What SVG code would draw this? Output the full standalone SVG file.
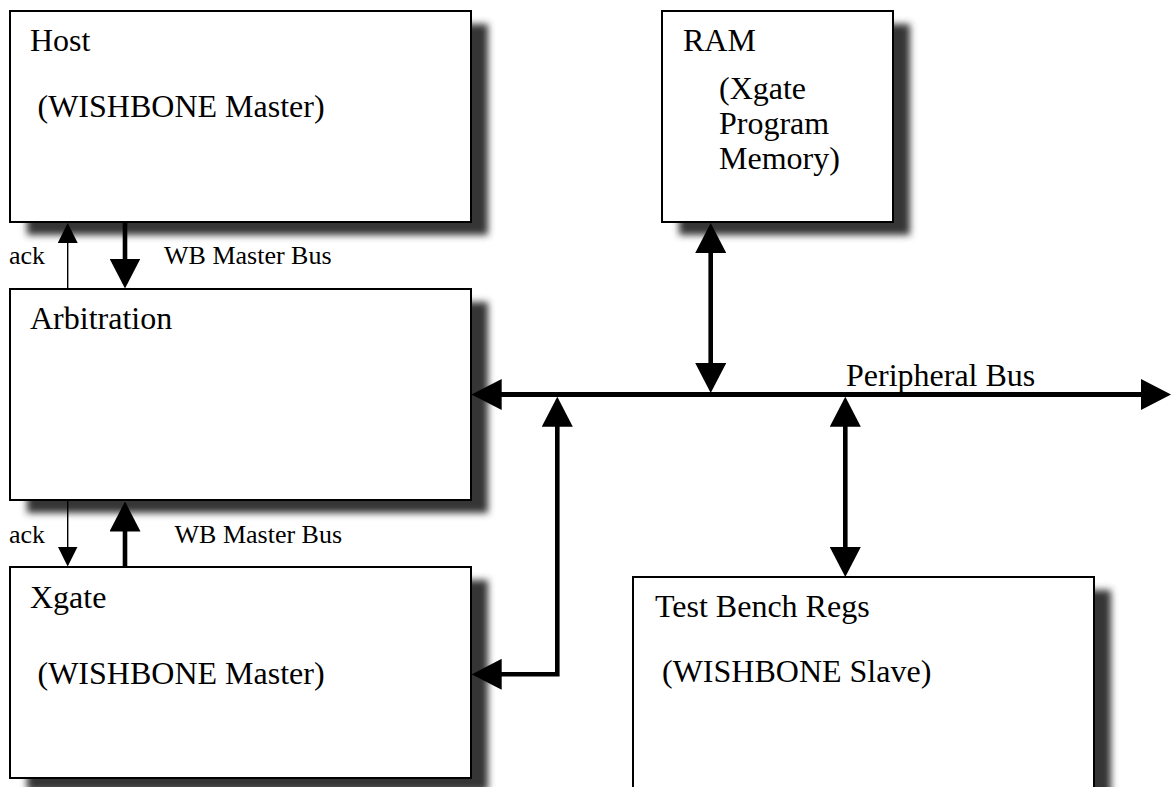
<svg xmlns="http://www.w3.org/2000/svg" width="1171" height="787" viewBox="0 0 1171 787">
  <style>
    .box { fill: #ffffff; stroke: #000000; stroke-width: 2; }
    .shadow { fill: #353535; filter: url(#blur); }
    .t { font-family: "Liberation Serif", "Times New Roman", serif; font-size: 32px; fill: #000000; }
    .lbl { font-family: "Liberation Serif", "Times New Roman", serif; font-size: 26px; fill: #000000; }
    .thick { fill: none; stroke: #000000; stroke-width: 4.6; }
    .bus { fill: none; stroke: #000000; stroke-width: 5; }
    .thin { fill: none; stroke: #000000; stroke-width: 1.4; }
  </style>
  <defs>
    <filter id="blur" x="-10%" y="-10%" width="120%" height="120%">
      <feGaussianBlur stdDeviation="3.5"/>
    </filter>
    <marker id="big" viewBox="0 0 30 31" markerUnits="userSpaceOnUse" markerWidth="30" markerHeight="31" refX="25" refY="15.5" orient="auto-start-reverse">
      <path d="M0,0 L30,15.5 L0,31 z" fill="#000000"/>
    </marker>
    <marker id="small" viewBox="0 0 20 20" markerUnits="userSpaceOnUse" markerWidth="20" markerHeight="20" refX="18" refY="10" orient="auto-start-reverse">
      <path d="M0,0 L20,10 L0,20 z" fill="#000000"/>
    </marker>
  </defs>

  <rect width="1171" height="787" fill="#ffffff"/>

  <g id="host">
    <rect class="shadow" x="27" y="24" width="461" height="211"/>
    <rect class="box" x="10" y="11" width="461" height="211"/>
    <text class="t" x="30" y="51">Host</text>
    <text class="t" x="37.5" y="117">(WISHBONE Master)</text>
  </g>

  <g id="arbitration">
    <rect class="shadow" x="27" y="302" width="461" height="211"/>
    <rect class="box" x="10" y="289" width="461" height="211"/>
    <text class="t" x="30" y="329">Arbitration</text>
  </g>

  <g id="xgate">
    <rect class="shadow" x="27" y="580" width="461" height="211"/>
    <rect class="box" x="10" y="567" width="461" height="211"/>
    <text class="t" x="30" y="607.5">Xgate</text>
    <text class="t" x="37.5" y="684">(WISHBONE Master)</text>
  </g>

  <g id="ram">
    <rect class="shadow" x="679" y="24" width="231" height="211"/>
    <rect class="box" x="662" y="11" width="231" height="211"/>
    <text class="t" x="683" y="51">RAM</text>
    <text class="t" x="719" y="98.5">(Xgate</text>
    <text class="t" x="719" y="133.5">Program</text>
    <text class="t" x="719" y="168.5">Memory)</text>
  </g>

  <g id="testbench">
    <rect class="shadow" x="650" y="590" width="461" height="230"/>
    <rect class="box" x="633" y="577" width="461" height="230"/>
    <text class="t" x="655" y="617">Test Bench Regs</text>
    <text class="t" x="662" y="682">(WISHBONE Slave)</text>
  </g>

  <g id="connectors">
    <line class="thick" x1="125" y1="222" x2="125" y2="283.5" marker-end="url(#big)"/>
    <line class="thin" x1="67.7" y1="289" x2="67.7" y2="225" marker-end="url(#small)"/>
    <line class="thick" x1="125" y1="567" x2="125" y2="506.5" marker-end="url(#big)"/>
    <line class="thin" x1="67.7" y1="500" x2="67.7" y2="564.5" marker-end="url(#small)"/>
    <line class="bus" x1="476.7" y1="394.5" x2="1166" y2="394.5" marker-start="url(#big)" marker-end="url(#big)"/>
    <line class="thick" x1="710.7" y1="228" x2="710.7" y2="388" marker-start="url(#big)" marker-end="url(#big)"/>
    <line class="thick" x1="845.3" y1="401.7" x2="845.3" y2="572" marker-start="url(#big)" marker-end="url(#big)"/>
    <polyline class="thick" points="557.3,401.7 557.3,674.3 476.7,674.3" marker-start="url(#big)" marker-end="url(#big)"/>
    <text class="lbl" x="9" y="264">ack</text>
    <text class="lbl" x="164" y="264">WB Master Bus</text>
    <text class="lbl" x="9" y="543">ack</text>
    <text class="lbl" x="174.5" y="543">WB Master Bus</text>
    <text class="t" x="846" y="386">Peripheral Bus</text>
  </g>
</svg>
